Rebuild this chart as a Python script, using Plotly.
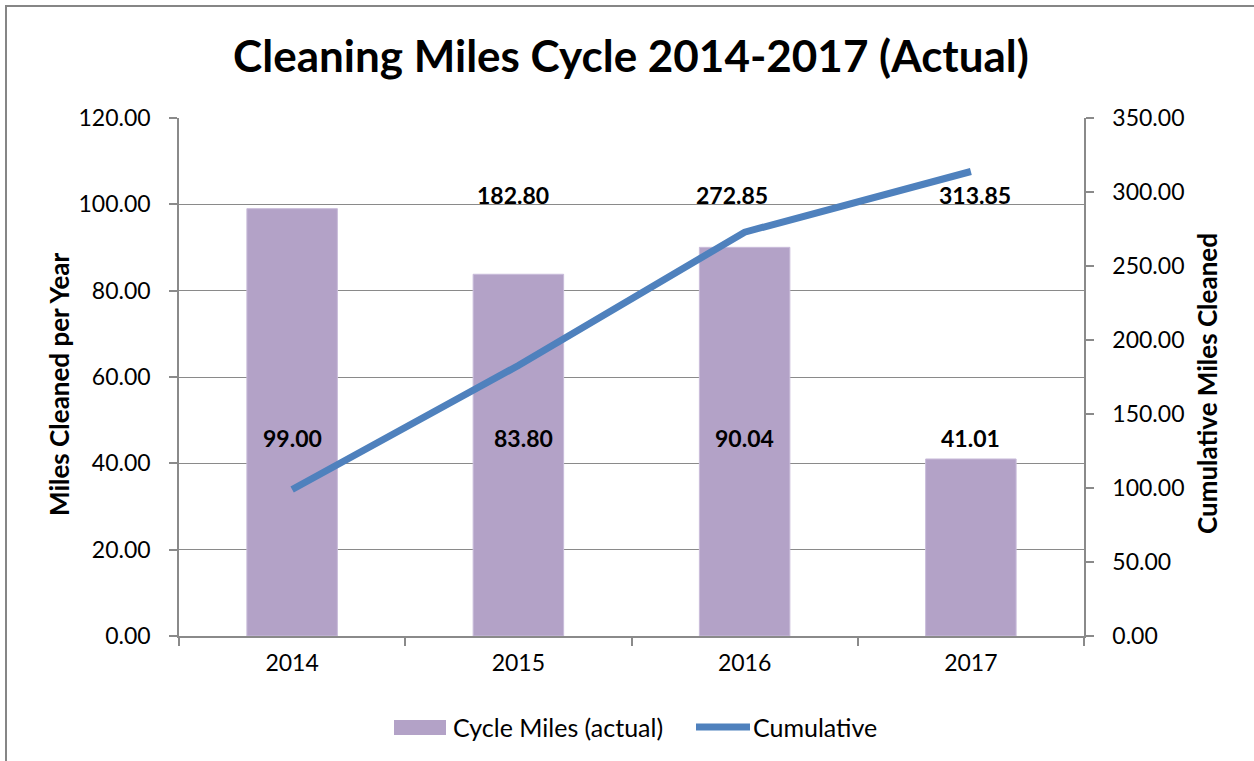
import plotly.graph_objects as go

years = ["2014", "2015", "2016", "2017"]
cycle_miles = [99.00, 83.80, 90.04, 41.01]
cumulative = [99.00, 182.80, 272.85, 313.85]
bar_label_text = ["99.00", "83.80", "90.04", "41.01"]
cum_label_text = ["", "182.80", "272.85", "313.85"]
series_names = ["Cycle Miles (actual)", "Cumulative"]

FONT = "Lato"
GRID = "#8a8a8a"
BAR_COLOR = "#B3A2C7"
LINE_COLOR = "#4F81BD"

# plot-area geometry (pixels) used to place decorations in paper units
L, R, T, B = 179, 1084, 118, 636
def px_x(p):
    return (p - L) / (R - L)
def px_y(p):
    return (B - p) / (B - T)

fig = go.Figure()
fig.add_trace(go.Bar(
    x=years, y=cycle_miles, name=series_names[0],
    marker=dict(color=BAR_COLOR, line=dict(color="#C9BCDA", width=1)),
    width=0.4, yaxis="y", showlegend=False,
))
fig.add_trace(go.Scatter(
    x=years, y=cumulative, name=series_names[1], mode="lines",
    line=dict(color=LINE_COLOR, width=7), yaxis="y2", showlegend=False,
))

annotations = []
bar_shifts = [0, 5, 0, 0]
for i, (t, s) in enumerate(zip(bar_label_text, bar_shifts)):
    annotations.append(dict(x=i, y=45.9, xref="x", yref="y", text=f"<b>{t}</b>",
                            showarrow=False, xshift=s,
                            font=dict(family=FONT, size=23, color="black")))
cum_shifts = [0, -5, -13, 4]
for i, (t, s) in enumerate(zip(cum_label_text, cum_shifts)):
    if t:
        annotations.append(dict(x=i, y=102.2, xref="x", yref="y", text=f"<b>{t}</b>",
                                showarrow=False, xshift=s,
                                font=dict(family=FONT, size=23, color="black")))

# axis titles
annotations.append(dict(x=px_x(59), y=px_y(384), xref="paper", yref="paper",
                        text="<b>Miles Cleaned per Year</b>", textangle=-90,
                        showarrow=False, xanchor="center", yanchor="middle",
                        font=dict(family=FONT, size=26, color="black")))
annotations.append(dict(x=px_x(1207), y=px_y(384), xref="paper", yref="paper",
                        text="<b>Cumulative Miles Cleaned</b>", textangle=-90,
                        showarrow=False, xanchor="center", yanchor="middle",
                        font=dict(family=FONT, size=26, color="black")))
# legend texts
annotations.append(dict(x=px_x(451), y=px_y(727), xref="paper", yref="paper",
                        text=series_names[0], showarrow=False,
                        xanchor="left", yanchor="middle",
                        font=dict(family=FONT, size=25, color="black")))
annotations.append(dict(x=px_x(751), y=px_y(727), xref="paper", yref="paper",
                        text=series_names[1], showarrow=False,
                        xanchor="left", yanchor="middle",
                        font=dict(family=FONT, size=25, color="black")))

shapes = [
    # outer chart border
    dict(type="rect", xref="paper", yref="paper",
         x0=px_x(6), x1=px_x(1300), y0=px_y(800), y1=px_y(6),
         line=dict(color="#868686", width=2), fillcolor="rgba(0,0,0,0)", layer="below"),
    # legend swatches
    dict(type="rect", xref="paper", yref="paper",
         x0=px_x(394), x1=px_x(446), y0=px_y(735), y1=px_y(720),
         line=dict(width=0), fillcolor=BAR_COLOR),
    dict(type="line", xref="paper", yref="paper",
         x0=px_x(696), x1=px_x(750), y0=px_y(727), y1=px_y(727),
         line=dict(color=LINE_COLOR, width=7)),
]

fig.update_layout(
    width=1254, height=761,
    margin=dict(l=L, r=1254 - R, t=T, b=761 - B, autoexpand=False),
    paper_bgcolor="white", plot_bgcolor="white",
    font=dict(family=FONT, size=23, color="black"),
    title=dict(text="<b>Cleaning Miles Cycle 2014-2017 (Actual)</b>",
               x=px_x(631), xref="paper", xanchor="center",
               y=1 - 57 / 761, yanchor="middle",
               font=dict(family=FONT, size=44, color="black")),
    showlegend=False,
    xaxis=dict(type="category", range=[-0.5, 3.5], showline=True, linecolor=GRID,
               linewidth=1.5, ticks="outside", tickson="boundaries", ticklen=8,
               tickcolor=GRID, tickwidth=1.5, showgrid=False, automargin=False,
               ticklabelstandoff=6,
               tickfont=dict(size=23, family=FONT)),
    yaxis=dict(range=[0, 120], tickvals=[0, 20, 40, 60, 80, 100, 120],
               tickformat=".2f", showgrid=True, gridcolor=GRID, gridwidth=1,
               showline=True, linecolor=GRID, linewidth=1.5, ticks="outside",
               ticklen=8, tickcolor=GRID, tickwidth=1.5, zeroline=False,
               automargin=False, ticklabelstandoff=14,
               tickfont=dict(size=23, family=FONT)),
    yaxis2=dict(range=[0, 350], tickvals=[0, 50, 100, 150, 200, 250, 300, 350],
                tickformat=".2f", overlaying="y", side="right", showgrid=False,
                showline=True, linecolor=GRID, linewidth=1.5, ticks="outside",
                ticklen=8, tickcolor=GRID, tickwidth=1.5, zeroline=False,
                automargin=False, ticklabelstandoff=14,
                tickfont=dict(size=23, family=FONT)),
    annotations=annotations,
    shapes=shapes,
)

fig.write_html("out.html", config={"displayModeBar": False},
               post_script="document.body.style.margin='0';document.body.style.overflow='hidden';")
